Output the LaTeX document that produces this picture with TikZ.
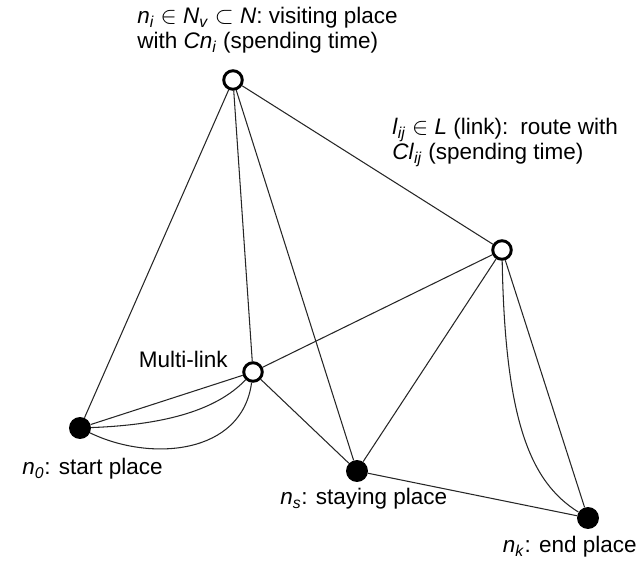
\documentclass[tikz,border=0pt]{standalone}
\usepackage{fontspec}
\setmainfont{Liberation Sans}
\usetikzlibrary{positioning,calc}

\newcommand{\itsub}[2]{\textit{#1}\textsubscript{\textit{#2}}}

\begin{document}
\begin{tikzpicture}[x=0.025cm, y=-0.025cm, font=\fontsize{16}{18}\selectfont]
    % Estilos para los lugares y las rutas
    \tikzstyle{visit} = [circle, draw, fill=white, line width=2.1pt, inner sep=0pt, minimum size=13.2pt]
    \tikzstyle{place} = [circle, fill=black, inner sep=0pt, minimum size=15.6pt]
    \tikzstyle{link} = [draw=black!85, line width=0.75pt]
    \tikzstyle{lbl} = [inner sep=0pt, align=left]

    \useasboundingbox (0,0) rectangle (640,563);

    % --- Lugares ---
    \node [visit] (ni) at (233,80) {};
    \node [visit] (nj) at (502,250) {};
    \node [visit] (ml) at (253,372) {};
    \node [place] (n0) at (80,428) {};
    \node [place] (ns) at (357,471) {};
    \node [place] (nk) at (588,518) {};

    % --- Rutas rectas ---
    \draw [link] (ni) -- (n0);
    \draw [link] (ni) -- (ml);
    \draw [link] (ni) -- (ns);
    \draw [link] (ni) -- (nj);
    \draw [link] (n0) -- (ml);
    \draw [link] (ml) -- (nj);
    \draw [link] (ml) -- (ns);
    \draw [link] (nj) -- (ns);
    \draw [link] (nj) -- (nk);
    \draw [link] (ns) -- (nk);

    % Rutas multiples (curvas)
    \draw [link] (n0) .. controls (160,425) and (215,412) .. (ml);
    \draw [link] (n0) .. controls (150,462) and (242,455) .. (ml);
    \draw [link] (nj) .. controls (505,420) and (530,482) .. (nk);

    % --- Etiquetas ---
    \node [lbl, anchor=north west] (lblni) at (137,7)
        {\itsub{n}{i} $\in$ \itsub{N}{v} $\subset$ \textit{N}: visiting place\\with \itsub{Cn}{i} (spending time)};
    \node [lbl, anchor=north west] (lbllij) at (392,118)
        {\itsub{l}{ij} $\in$ \textit{L} (link):\, route with\\\itsub{Cl}{ij} (spending time)};
    \node [lbl, anchor=base east] (lblml) at (228,368) {Multi-link};
    \node [lbl, anchor=base west] (lbln0) at (22,475) {\itsub{n}{0}: start place};
    \node [lbl, anchor=base west] (lblns) at (280,505) {\itsub{n}{s}: staying place};
    \node [lbl, anchor=base east] (lblnk) at (637,553) {\itsub{n}{k}: end place};
\end{tikzpicture}
\end{document}
